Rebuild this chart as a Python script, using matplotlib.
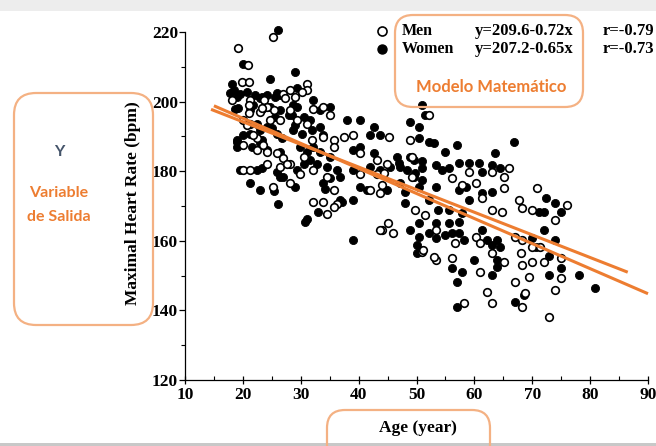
import matplotlib
matplotlib.use('Agg')
import matplotlib.pyplot as plt
from matplotlib.patches import FancyBboxPatch, Rectangle
from matplotlib.transforms import IdentityTransform
from matplotlib.ticker import MultipleLocator

# ---------------- data ----------------
men_age = [25.2, 19.2, 20.9,
           19.8, 21.0, 31.0, 31.0,
           18.1, 21.2, 23.6, 27.0, 28.2,
           21.0, 23.0, 25.3, 28.2, 32.2, 33.9, 35.1,
           20.1, 21.2, 22.4, 24.7, 26.4, 29.3, 31.0, 33.9, 35.7, 37.4, 39.1, 45.2,
           20.1, 22.4, 24.1, 25.9, 27.0, 28.2, 30.5, 35.7, 40.3, 43.2, 44.9,
           20.1, 21.2, 24.1, 26.4, 27.6, 29.9, 32.2, 40.3, 49.2,
           34.5, 35.7, 32.2, 33.9, 36.2, 42.0, 43.7, 43.2,
           34.5, 35.7, 25.2, 28.2,
           44.1, 45.1, 44.1, 46.0, 49.3, 48.9, 32.0,
           52.2, 56.1, 59.0, 63.1, 65.1, 65.9, 57.9, 60.2, 65.1, 61.3, 63.1, 64.8,
           67.7, 68.3, 49.8, 51.5,
           51.0, 53.3, 56.7, 60.2, 61.0, 67.1, 68.3, 53.3, 56.1, 61.0, 63.1, 65.1,
           62.2, 63.1, 58.2, 67.1, 68.3, 68.0, 68.3,
           70.8, 76.0, 70.0, 74.0, 70.0, 71.4, 74.9, 70.0, 72.0, 74.9, 74.0, 69.4,
           68.8, 72.9,
           44.3, 43.7, 51.2, 53.0,
           21.0, 24.1, 27.3, 29.0, 30.2, 23.3, 20.7, 21.8, 23.5]
men_hr = [218.6, 215.4, 210.5,
          205.7, 205.7, 205.2, 203.3,
          200.4, 200.4, 200.4, 202.3, 203.3,
          196.6, 197.1, 197.5, 197.5, 198.0, 198.5, 196.1,
          194.7, 193.7, 189.4, 194.7, 194.7, 194.7, 193.7, 189.9, 188.9, 189.9, 190.4, 189.9,
          187.5, 186.0, 185.6, 185.1, 183.7, 182.2, 184.1, 187.0, 185.1, 183.2, 182.2,
          180.3, 180.3, 182.2, 181.3, 182.2, 179.3, 180.3, 179.3, 184.1,
          178.4, 174.6, 171.2, 171.2, 170.7, 174.6, 173.6, 179.3,
          167.8, 169.8, 175.5, 176.6,
          176.0, 165.0, 163.0, 162.2, 178.3, 189.0, 189.0,
          196.2, 178.0, 179.9, 179.9, 178.4, 180.8, 176.0, 176.5, 175.1, 172.2, 168.9, 168.4,
          171.7, 169.3, 168.9, 167.4,
          156.9, 163.1, 159.3, 161.2, 159.3, 161.2, 160.2, 154.5, 155.0, 151.1, 156.4, 154.0,
          145.4, 142.0, 142.0, 148.3, 141.1, 156.4, 153.0,
          175.1, 170.3, 168.9, 166.0, 158.3, 158.3, 155.0, 154.0, 154.0, 149.2, 145.9, 149.7,
          144.9, 138.2,
          179.4, 163.1, 157.3, 155.4,
          199.0, 198.5, 200.9, 201.4, 202.8, 198.1, 193.3, 190.4, 187.5]

women_age = [26.1, 20.0,
             18.1, 24.7, 29.0, 29.3,
             18.4, 19.5, 20.7, 22.1, 23.0, 24.1, 25.6, 26.4, 32.2,
             18.7, 21.8, 23.3, 24.7, 26.4, 27.9, 29.3, 30.5, 31.6, 33.4, 35.1,
             18.9, 21.2, 23.0, 24.1, 25.9, 28.7, 30.2, 31.9, 33.4, 38.0, 40.3, 42.6, 43.7,
             18.9, 21.5, 23.0, 24.1, 26.4, 29.9, 31.0, 32.2, 33.4, 35.1, 39.1, 40.3, 42.6, 48.9, 49.5,
             19.5, 22.4, 25.9, 29.3, 30.5, 31.6, 32.8, 34.5, 36.2, 39.1, 42.0, 43.7, 45.5, 47.2,
             21.2, 23.0, 26.4, 33.9, 34.2, 36.8, 39.1, 41.4, 44.9, 47.2, 49.5,
             26.1, 31.0, 33.0, 36.8,
             23.3, 25.4, 27.0, 29.0, 30.8,
             35.1, 37.2, 40.3, 39.1, 48.9, 48.0, 48.0,
             42.0, 48.9, 46.7, 46.9, 33.9, 51.0,
             51.5, 50.4, 50.4, 52.1, 53.0, 57.0, 55.0, 66.8, 63.6, 57.3, 59.0, 60.8, 61.3,
             63.1, 64.5, 51.0, 53.3, 54.4, 55.6, 49.8, 51.0, 53.3, 57.3, 58.5, 61.3, 63.1,
             59.0, 50.4, 52.1, 53.8, 55.6, 57.9,
             50.4, 50.1, 52.1, 53.3, 55.0, 56.1, 57.3, 58.2, 61.3, 62.2, 63.1, 63.9, 64.5,
             50.4, 53.3, 55.6, 57.3, 56.1, 57.9, 57.0, 59.9, 63.1, 63.9, 63.9, 57.0, 67.1, 68.5,
             72.3, 74.0, 74.9, 71.1, 72.0, 72.0, 74.0, 70.0, 70.6, 72.9, 74.9, 72.9, 78.0, 80.9,
             48.4, 50.9, 50.1,
             17.8, 18.9, 23.3, 25.9, 28.7, 19.2, 21.2, 25.6, 28.5, 22.4, 25.0, 29.0,
             18.9, 23.3, 26.7, 20.1]
women_hr = [220.6, 210.8,
            205.2, 206.6, 208.6, 203.8,
            203.3, 202.3, 202.8, 201.9, 200.9, 201.9, 201.4, 201.9, 200.4,
            198.0, 199.0, 198.0, 198.5, 197.5, 196.1, 198.5, 195.6, 194.7, 197.5, 198.5,
            188.9, 190.8, 191.8, 192.8, 190.8, 191.8, 190.8, 191.8, 192.8, 194.7, 194.7, 192.8, 190.4,
            187.0, 187.0, 188.0, 186.0, 185.6, 187.0, 185.6, 187.0, 185.6, 184.1, 186.0, 187.0, 185.1, 184.1, 183.2,
            180.3, 180.3, 179.8, 180.3, 182.2, 183.2, 182.2, 181.3, 180.3, 180.3, 181.3, 180.3, 181.3, 181.3,
            176.5, 174.6, 178.4, 176.5, 174.8, 178.4, 171.7, 174.6, 174.6, 176.5, 178.4,
            170.7, 166.4, 168.3, 171.7,
            181.0, 174.3, 178.3, 175.5, 165.4,
            178.0, 171.1, 175.5, 160.2, 163.1, 174.0, 171.0,
            190.4, 194.0, 184.0, 182.4, 190.4, 199.0,
            196.2, 192.8, 189.5, 188.5, 188.0, 187.5, 185.6, 188.5, 185.1, 182.3, 182.3, 182.3, 179.9,
            181.8, 180.8, 180.8, 181.8, 180.4, 180.8, 179.4, 177.5, 175.6, 174.6, 175.6, 173.7, 174.1,
            171.7, 175.6, 171.7, 168.9, 168.9, 167.9,
            161.2, 158.8, 162.2, 160.7, 161.7, 162.2, 162.2, 160.2, 163.1, 160.2, 158.8, 160.2, 158.3,
            165.0, 165.0, 165.0, 165.5, 152.1, 151.1, 148.3, 154.5, 150.2, 154.5, 152.6, 141.1, 142.5, 144.4,
            172.2, 170.8, 168.4, 168.4, 168.4, 163.1, 160.2, 160.7, 158.3, 155.5, 152.1, 150.2, 150.2, 146.4,
            180.3, 183.0, 156.4,
            202.4, 201.4, 201.4, 202.4, 199.0, 198.1, 197.6, 195.7, 196.1, 193.7, 192.3, 193.3,
            188.5, 189.0, 189.4, 190.4]

# regression fits: (intercept, slope), age range drawn
men_fit = (209.6, -0.72)
women_fit = (207.2, -0.65)
men_span = (15.0, 90.0)
women_span = (14.5, 86.5)

x_ticks = [10, 20, 30, 40, 50, 60, 70, 80, 90]
y_ticks = [120, 140, 160, 180, 200, 220]

legend_names = ["Men", "Women"]
legend_eq = ["y=209.6-0.72x", "y=207.2-0.65x"]
legend_r = ["r=-0.79", "r=-0.73"]

# ---------------- figure ----------------
W, H = 656, 446
fig = plt.figure(figsize=(W / 100, H / 100), dpi=100)
fig.patch.set_facecolor('white')
ID = IdentityTransform()


def fx(px):
    return px / W


def fy(py):
    return 1 - py / H


# slide-like background details
fig.add_artist(Rectangle((0, H - 11), W, 11, transform=ID, facecolor='#EDEDED',
                         edgecolor='none', zorder=0))
fig.add_artist(Rectangle((0, 0), W, 3, transform=ID, facecolor='#C8C8C8',
                         edgecolor='none', zorder=0))

ax = fig.add_axes([fx(185), fy(380), fx(648) - fx(185), fy(32) - fy(380)])
ax.set_facecolor('none')

serif = 'Liberation Serif'
orange = '#ED7D31'

ax.scatter(women_age, women_hr, s=34, facecolor='black', edgecolor='black',
           linewidth=0.6, zorder=2, clip_on=False)
ax.scatter(men_age, men_hr, s=30, facecolor='white', edgecolor='black',
           linewidth=1.2, zorder=3, clip_on=False)

for (b0, b1), (a0, a1) in ((men_fit, men_span), (women_fit, women_span)):
    ax.plot([a0, a1], [b0 + b1 * a0, b0 + b1 * a1], color=orange, lw=2.2,
            solid_capstyle='butt', zorder=4, clip_on=False)

ax.set_xlim(10, 90)
ax.set_ylim(120, 220)
ax.set_xticks(x_ticks)
ax.set_yticks(y_ticks)
ax.xaxis.set_minor_locator(MultipleLocator(5))
ax.yaxis.set_minor_locator(MultipleLocator(10))
for s in ('top', 'right'):
    ax.spines[s].set_visible(False)
for s in ('left', 'bottom'):
    ax.spines[s].set_linewidth(0.9)
ax.tick_params(axis='x', which='major', direction='inout', length=6, width=0.9, pad=2)
ax.tick_params(axis='x', which='minor', direction='in', length=3, width=0.8)
ax.tick_params(axis='y', which='major', direction='out', length=4, width=0.9, pad=1)
ax.tick_params(axis='y', which='minor', direction='out', length=3, width=0.8)
for lab in ax.get_xticklabels() + ax.get_yticklabels():
    lab.set_fontfamily(serif)
    lab.set_fontweight('bold')
    lab.set_fontsize(12.5)

# axis titles
fig.text(fx(133), fy(203), "Maximal Heart Rate (bpm)", rotation=90, ha='center',
         va='center', family=serif, weight='bold', fontsize=12.5)
fig.text(fx(418), fy(428), "Age (year)", ha='center', va='center', family=serif,
         weight='bold', fontsize=12.5)

# legend of the original chart
rows_y = [31, 49]
fig.add_artist(plt.Line2D([fx(382)], [fy(rows_y[0])], marker='o', markersize=6.5,
                          markerfacecolor='white', markeredgecolor='black',
                          markeredgewidth=1.2, linestyle='none', transform=fig.transFigure))
fig.add_artist(plt.Line2D([fx(382)], [fy(rows_y[1])], marker='o', markersize=6.5,
                          markerfacecolor='black', markeredgecolor='black',
                          linestyle='none', transform=fig.transFigure))
for i, yy in enumerate(rows_y):
    fig.text(fx(402), fy(yy), legend_names[i], ha='left', va='center', family=serif,
             weight='bold', fontsize=11.5)
    fig.text(fx(475), fy(yy), legend_eq[i], ha='left', va='center', family=serif,
             weight='bold', fontsize=12)
    fig.text(fx(603), fy(yy), legend_r[i], ha='left', va='center', family=serif,
             weight='bold', fontsize=12)

# annotation boxes
box_c = '#F4B183'
for (x0, y0, x1, y1, r) in ((14, 93, 153, 325, 22), (395, 15, 583, 107, 18),
                            (327, 410, 490, 470, 18)):
    fig.add_artist(FancyBboxPatch((x0, H - y1), x1 - x0, y1 - y0,
                                  boxstyle=f"round,pad=0,rounding_size={r}",
                                  transform=ID, facecolor='none', edgecolor=box_c,
                                  linewidth=1.6, zorder=5))

fig.text(fx(59), fy(152), "Y", ha='center', va='center', family='Lato', weight='bold',
         fontsize=11.5, color='#44546A')
fig.text(fx(59), fy(193), "Variable", ha='center', va='center', family='Lato',
         weight='bold', fontsize=11.5, color=orange)
fig.text(fx(59), fy(217), "de Salida", ha='center', va='center', family='Lato',
         weight='bold', fontsize=11.5, color=orange)
fig.text(fx(491), fy(87), "Modelo Matemático", ha='center', va='center', family='Lato',
         weight='bold', fontsize=12, color=orange)

fig.savefig('out.png', dpi=100)
